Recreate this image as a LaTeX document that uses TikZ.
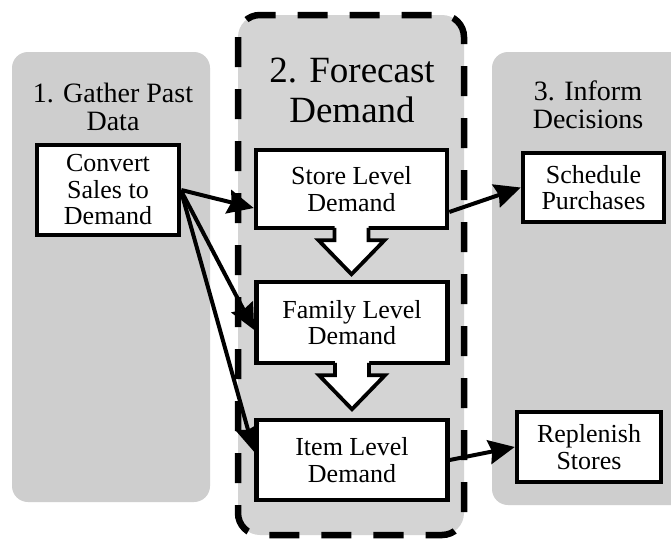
\documentclass[tikz,border=0pt]{standalone}
\usepackage{fontspec}
\setmainfont{Liberation Serif}
\usetikzlibrary{arrows.meta,calc}
\definecolor{panelgray}{RGB}{206,206,206}
\definecolor{midgray}{RGB}{212,212,212}
\begin{document}
\begin{tikzpicture}[x=1pt,y=-1pt,
  panel/.style={fill=panelgray, rounded corners=16pt},
  stagepanel/.style={draw=black, fill=midgray, line width=6.5pt,
    dash pattern=on 30pt off 22pt, rounded corners=22pt},
  title/.style={align=center, inner sep=0pt, font=\fontsize{28}{28}\selectfont},
  bigtitle/.style={align=center, inner sep=0pt, font=\fontsize{37}{40}\selectfont},
  box/.style={draw=black, fill=white, line width=4.5pt, align=center,
    inner sep=0pt, font=\fontsize{26}{26.5}\selectfont},
  link/.style={line width=4pt, -{Stealth[length=26pt,width=24pt,inset=3pt]}},
  pics/blockdown/.style={code={
    \fill[white] (-17,-5) -- (-17,10) -- (-33,10) -- (0,44) -- (33,10)
      -- (17,10) -- (17,-5) -- cycle;
    \draw[line width=3.8pt, line join=miter] (-17,-2.5) -- (-17,10) -- (-33,10)
      -- (0,44) -- (33,10) -- (17,10) -- (17,-2.5);
  }}]
\useasboundingbox (0,0) rectangle (671,538);
\clip (0,0) rectangle (671,538);
\fill[white] (0,0) rectangle (671,538);

% stage panels
\fill[panel] (12,52) rectangle (210,502);
\fill[panel] (492,52) rectangle (710,505);
\draw[stagepanel] (238,15) rectangle (464,535);

% stage titles
\node[title] (t1) at (113,106.5) {1. Gather Past\\Data};
\node[bigtitle] (t2) at (352,90.5) {2. Forecast\\Demand};
\node[title] (t3) at (588,104.5) {3. Inform\\Decisions};

% process boxes
\node[box, minimum width=142pt, minimum height=90pt] (conv) at (108,190)
  {Convert\\Sales to\\Demand};
\node[box, minimum width=191pt, minimum height=78pt] (store) at (351.5,189)
  {Store Level\\Demand};
\node[box, minimum width=191pt, minimum height=81pt] (family) at (352,322.5)
  {Family Level\\Demand};
\node[box, minimum width=191pt, minimum height=80pt] (item) at (352,460)
  {Item Level\\Demand};
\node[box, minimum width=141pt, minimum height=69pt] (sched) at (593.5,187.5)
  {Schedule\\Purchases};
\node[box, minimum width=144pt, minimum height=70pt] (repl) at (589,447)
  {Replenish\\Stores};

% aggregation arrows inside the forecast stage
\pic at (store.south) {blockdown};
\pic at (family.south) {blockdown};

% data flow
\draw[link] (conv.east) -- ($(store.west)+(0,19)$);
\draw[link] ($(conv.east)+(0,1)$) -- ($(family.west)+(0,7.5)$);
\draw[link] ($(conv.east)+(0,2)$) -- ($(item.west)+(0,-8)$);
\draw[link] ($(store.east)+(0,23)$) -- (sched.west);
\draw[link] (item.east) -- (repl.west);
\end{tikzpicture}
\end{document}
